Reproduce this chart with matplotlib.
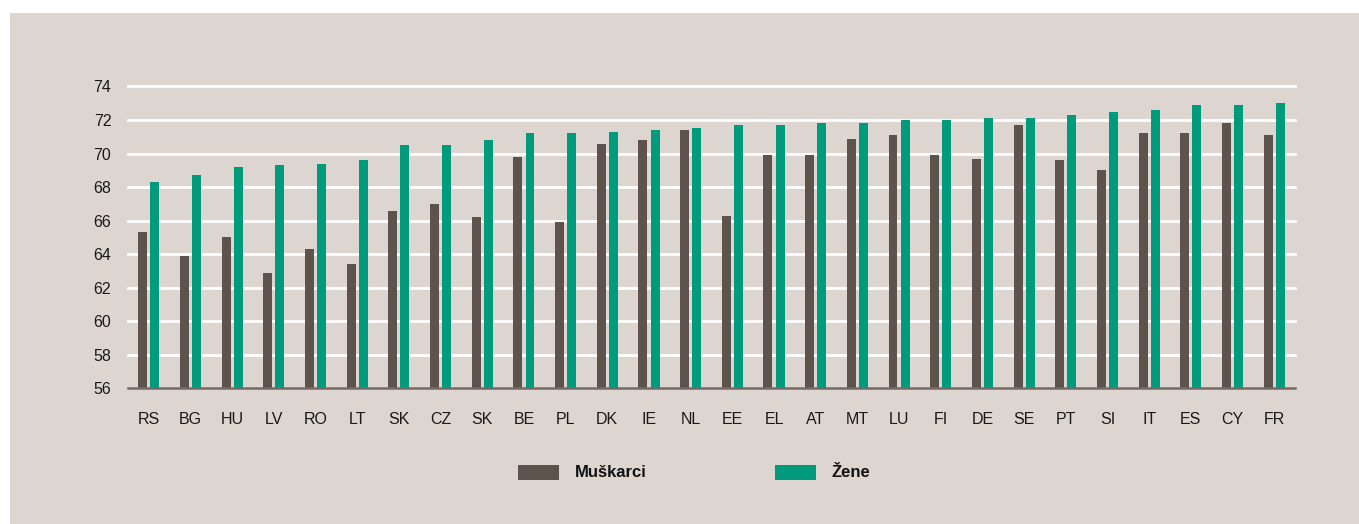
import matplotlib
matplotlib.use("Agg")
import matplotlib.pyplot as plt
from matplotlib.patches import Rectangle
import numpy as np

categories = ["RS", "BG", "HU", "LV", "RO", "LT", "SK", "CZ", "SK", "BE", "PL", "DK", "IE", "NL",
              "EE", "EL", "AT", "MT", "LU", "FI", "DE", "SE", "PT", "SI", "IT", "ES", "CY", "FR"]
muskarci = [65.3, 63.9, 65.0, 62.9, 64.3, 63.4, 66.6, 67.0, 66.2, 69.8, 65.9, 70.6, 70.8, 71.4,
            66.3, 69.9, 69.9, 70.9, 71.1, 69.9, 69.7, 71.7, 69.6, 69.0, 71.2, 71.2, 71.8, 71.1]
zene = [68.3, 68.7, 69.2, 69.3, 69.4, 69.6, 70.5, 70.5, 70.8, 71.2, 71.2, 71.3, 71.4, 71.5,
        71.7, 71.7, 71.8, 71.8, 72.0, 72.0, 72.1, 72.1, 72.3, 72.5, 72.6, 72.9, 72.9, 73.0]
yticks = [56, 58, 60, 62, 64, 66, 68, 70, 72, 74]

BG = "#ddd5d0"
C_M = "#5e524d"
C_Z = "#009b7d"

plt.rcParams["font.family"] = ["Liberation Sans", "DejaVu Sans"]

W, H = 1359, 524
fig = plt.figure(figsize=(W / 100, H / 100), dpi=100)
fig.patch.set_facecolor("white")
fig.add_artist(Rectangle((10 / W, 0), 1 - 10 / W, 1 - 13 / H, transform=fig.transFigure,
                         facecolor=BG, edgecolor="none", zorder=0))

ax = fig.add_axes([128 / W, 1 - 388.5 / H, (1295 - 128) / W, (388.5 - 86.5) / H])
ax.set_facecolor("none")
x = np.arange(len(categories))
bw = 0.215
off = 0.145
ax.bar(x - off, [v - 56 for v in muskarci], bottom=56, width=bw, color=C_M, zorder=3)
ax.bar(x + off, [v - 56 for v in zene], bottom=56, width=bw, color=C_Z, zorder=3)

ax.set_xlim(-0.5, len(categories) - 0.5)
ax.set_ylim(56, 74)
ax.set_yticks(yticks)
ax.set_yticklabels([str(t) for t in yticks])
ax.set_xticks(x)
ax.set_xticklabels(categories)
for t in yticks[1:]:
    ax.axhline(t, color="white", lw=2, zorder=1, clip_on=False)
ax.axhline(56, color="#756a66", lw=1.8, zorder=4, clip_on=False)
for s in ax.spines.values():
    s.set_visible(False)
ax.tick_params(axis="both", length=0, labelsize=11.5, colors="#1a1a1a")
ax.tick_params(axis="y", pad=12)
ax.tick_params(axis="x", pad=17)

# legend
fig.add_artist(Rectangle((518 / W, 1 - 480 / H), 41 / W, 15 / H, transform=fig.transFigure,
                         facecolor=C_M, edgecolor="none"))
fig.text(575 / W, 1 - 472.5 / H, "Muškarci", fontsize=12, fontweight="bold", va="center",
         ha="left", color="#111111")
fig.add_artist(Rectangle((775 / W, 1 - 480 / H), 41 / W, 15 / H, transform=fig.transFigure,
                         facecolor=C_Z, edgecolor="none"))
fig.text(831 / W, 1 - 472.5 / H, "Žene", fontsize=12, fontweight="bold", va="center",
         ha="left", color="#111111")

fig.savefig("out.png", dpi=100, facecolor=fig.get_facecolor())
